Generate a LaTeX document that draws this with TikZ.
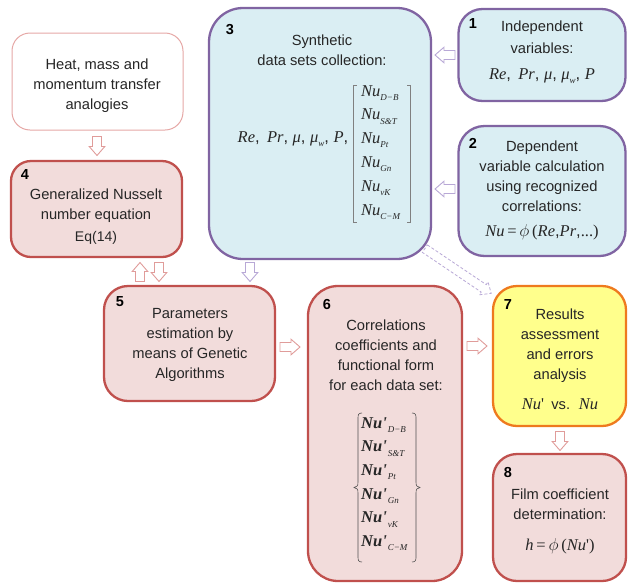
\documentclass[tikz,border=0pt]{standalone}
\usepackage{fontspec}
\setmainfont{Liberation Sans}
\newfontfamily\tms{Liberation Serif}
\definecolor{bluefill}{HTML}{DAEEF3}
\definecolor{purpline}{HTML}{8064A2}
\definecolor{redfill}{HTML}{F2DCDB}
\definecolor{redline}{HTML}{C0504D}
\definecolor{yelfill}{HTML}{FFFF8C}
\definecolor{oranline}{HTML}{EE7A1E}
\definecolor{pinkline}{HTML}{E6A8A6}
\definecolor{redarrow}{HTML}{E09C9A}
\definecolor{lavarrow}{HTML}{B8A8D6}
\definecolor{txtcol}{HTML}{262626}
\newcommand\mi[1]{{\tms\itshape #1}}
\newcommand\sbs[1]{\raisebox{-0.5ex}{\fontsize{9}{9}\selectfont\tms\itshape #1}}
\newcommand\bsbs[1]{\hspace{1pt}\raisebox{-0.5ex}{\fontsize{9}{9}\selectfont\tms\itshape #1}}
\newcommand\nup{{\tms\bfseries\itshape Nu\textquotesingle}}
% block arrow: name, centre, angle, half length, style
\newcommand\barrow[5]{%
  \coordinate (#1) at #2;
  \draw[#5, shift={(#1)}, rotate=#3] (-#4,-4.5) -- (#4-9,-4.5) -- (#4-9,-7.8) -- (#4,0) -- (#4-9,7.8) -- (#4-9,4.5) -- (-#4,4.5) -- cycle;}
\tikzset{
  boxbase/.style={draw, line width=2.3pt, inner sep=0pt},
  bluebox/.style={boxbase, fill=bluefill, draw=purpline},
  redbox/.style={boxbase, fill=redfill, draw=redline},
  yelbox/.style={boxbase, fill=yelfill, draw=oranline},
  plainbox/.style={draw=pinkline, line width=1pt, fill=white, inner sep=0pt},
  txt/.style={align=center, font=\fontsize{14.7}{20}\selectfont, text=txtcol, inner sep=0pt},
  num/.style={font=\fontsize{14.5}{14}\selectfont\bfseries, text=black, inner sep=0pt},
  fml/.style={font=\fontsize{16.5}{18}\selectfont, text=txtcol, inner sep=0pt},
  row/.style={font=\fontsize{16.5}{18}\selectfont, text=txtcol, inner sep=0pt, anchor=west},
  redarr/.style={draw=redarrow, line width=0.9pt, fill=white, line join=miter},
  lavarr/.style={draw=lavarrow, line width=0.9pt, fill=white, line join=miter},
  dasharr/.style={draw=lavarrow, line width=0.8pt, densely dashed, fill=white},
}
\begin{document}
\begin{tikzpicture}[x=1pt,y=-1pt]
\useasboundingbox (0,0) rectangle (628,584);
% boxes
\node[plainbox, rounded corners=18pt, minimum width=171pt, minimum height=97pt] (bh) at (97.5,81.5) {};
\node[redbox, rounded corners=20pt, minimum width=171pt, minimum height=96pt] (b4) at (96.5,209) {};
\node[bluebox, rounded corners=34pt, minimum width=222pt, minimum height=251pt] (b3) at (320,133.5) {};
\node[bluebox, rounded corners=24pt, minimum width=167pt, minimum height=92pt] (b1) at (542,55) {};
\node[bluebox, rounded corners=26pt, minimum width=167pt, minimum height=130pt] (b2) at (542,191) {};
\node[redbox, rounded corners=24pt, minimum width=171pt, minimum height=115pt] (b5) at (189.5,343.5) {};
\node[redbox, rounded corners=30pt, minimum width=154pt, minimum height=295pt] (b6) at (385,433.5) {};
\node[yelbox, rounded corners=24pt, minimum width=133pt, minimum height=140pt] (b7) at (559.5,356) {};
\node[redbox, rounded corners=24pt, minimum width=133pt, minimum height=127pt] (b8) at (559.5,517.5) {};
% numbers
\node[num] (n3) at (230,30) {3};
\node[num] (n1) at (473,24) {1};
\node[num] (n2) at (473,143) {2};
\node[num] (n4) at (25,175) {4};
\node[num] (n5) at (120,302) {5};
\node[num] (n6) at (327,305) {6};
\node[num] (n7) at (508,305) {7};
\node[num] (n8) at (508,472) {8};
% texts
\node[txt] (th) at (97,86) {Heat, mass and\\momentum transfer\\analogies};
\node[txt] (t4) at (96,206) {Generalized Nusselt\\number equation};
\node[txt, font=\fontsize{14}{16}\selectfont] (t4b) at (96,238) {Eq(14)};
\node[txt] (t3) at (322,50) {Synthetic\\data sets collection:};
\node[txt, font=\fontsize{14.7}{21.5}\selectfont] (t1) at (542,37) {Independent\\variables:};
\node[txt] (t2) at (542,176) {Dependent\\variable calculation\\using recognized\\correlations:};
\node[txt] (t5) at (190,345) {Parameters\\estimation by\\means of Genetic\\Algorithms};
\node[txt] (t6) at (386,355) {Correlations\\coefficients and\\functional form\\for each data set:};
\node[txt] (t7) at (560,346) {Results\\assessment\\and errors\\analysis};
\node[txt] (t8) at (560,504) {Film coefficient\\determination:};
% formulas
\node[fml] (f1) at (542,76) {\mi{Re},\, \mi{Pr}, \mi{μ}, \mi{μ}\sbs{w}, \mi{P}};
\node[fml] (f3) at (293,139) {\mi{Re},\, \mi{Pr}, \mi{μ}, \mi{μ}\sbs{w}, \mi{P},};
\node[fml] (f2) at (542,232) {\mi{Nu}\,{\tms =}\,$\phi$\,{\tms (}\mi{Re},\mi{Pr},{\tms ...)}};
\node[fml] (f7) at (560,404) {\mi{Nu}{\tms\textquotesingle}\, {\fontsize{14.7}{16}\selectfont vs.}\, \mi{Nu}};
\node[fml] (f8) at (560,546) {\mi{h}\,{\tms =}\,$\phi$\,{\tms (}\mi{Nu}{\tms\textquotesingle)}};
% matrix in box 3
\node[row] (r31) at (361,93) {\mi{Nu}\sbs{D−B}};
\node[row] (r32) at (361,116.5) {\mi{Nu}\sbs{S\&T}};
\node[row] (r33) at (361,140) {\mi{Nu}\sbs{Pt}};
\node[row] (r34) at (361,164) {\mi{Nu}\sbs{Gn}};
\node[row] (r35) at (361,188) {\mi{Nu}\sbs{vK}};
\node[row] (r36) at (361,212) {\mi{Nu}\sbs{C−M}};
\draw[gray, line width=0.8pt] (357,85) -- (353.5,85) -- (353.5,222) -- (357,222);
\draw[gray, line width=0.8pt] (407,85) -- (410.5,85) -- (410.5,222) -- (407,222);
% matrix in box 6
\node[row] (r61) at (361,425) {\nup\bsbs{D−B}};
\node[row] (r62) at (361,448.5) {\nup\bsbs{S\&T}};
\node[row] (r63) at (361,472) {\nup\bsbs{Pt}};
\node[row] (r64) at (361,496) {\nup\bsbs{Gn}};
\node[row] (r65) at (361,519.5) {\nup\bsbs{vK}};
\node[row] (r66) at (361,543) {\nup\bsbs{C−M}};
\draw[txtcol!80, line width=0.6pt] (362,413) .. controls (358,413) and (358,415) .. (358,419) -- (358,482) .. controls (358,486) and (357,487) .. (354,487.5) .. controls (357,488) and (358,489) .. (358,493) -- (358,556) .. controls (358,560) and (358,562) .. (362,562);
\draw[txtcol!80, line width=0.6pt] (412,413) .. controls (416,413) and (416,415) .. (416,419) -- (416,482) .. controls (416,486) and (417,487) .. (420,487.5) .. controls (417,488) and (416,489) .. (416,493) -- (416,556) .. controls (416,560) and (416,562) .. (412,562);
% block arrows
\barrow{ah4}{(97,146)}{-90}{9.5}{redarr}
\barrow{a13}{(445,55)}{180}{10}{lavarr}
\barrow{a23}{(445,189)}{180}{10}{lavarr}
\barrow{a54}{(140,272)}{90}{9.5}{redarr}
\barrow{a45}{(159,272)}{-90}{9.5}{redarr}
\barrow{a35}{(250,272)}{-90}{9.5}{lavarr}
\barrow{a56}{(290,347)}{0}{10}{redarr}
\barrow{a67}{(477,346)}{0}{10}{redarr}
\barrow{a78}{(560,441)}{-90}{9.5}{redarr}
\barrow{a37}{(458,271)}{-34}{40}{dasharr}
\end{tikzpicture}
\end{document}
